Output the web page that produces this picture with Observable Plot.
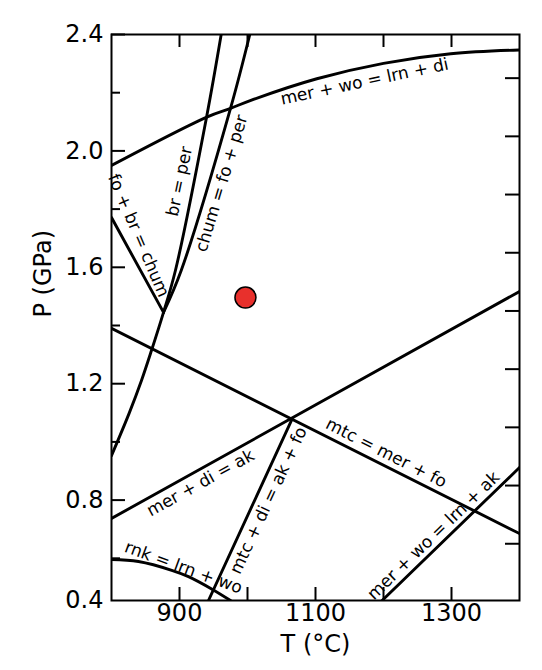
<!DOCTYPE html>
<html>
<head>
<meta charset="utf-8">
<script src="https://cdn.jsdelivr.net/npm/d3@7"></script>
<script src="https://cdn.jsdelivr.net/npm/@observablehq/plot@0.6"></script>
<style>
  html, body { margin: 0; padding: 0; background: #fff; }
  #chart svg { display: block; }
</style>
</head>
<body>
<div id="chart"></div>
<script>
// ---- Data (T in °C, P in GPa) ----
const merWoLrnDiT = [800, 941, 975, 1004, 1102, 1200, 1299, 1400];
const merWoLrnDiP = [1.950, 2.117, 2.146, 2.173, 2.248, 2.301, 2.334, 2.347];

const brPerT = [800, 825.9, 844.1, 858.8, 876.5, 894, 939.7, 961.3];
const brPerP = [0.953, 1.098, 1.211, 1.314, 1.445, 1.589, 2.115, 2.4];

const chumT = [876.5, 902.5, 975, 1003.4];
const chumP = [1.445, 1.589, 2.146, 2.4];

const foBrChumT = [800, 876.5];
const foBrChumP = [1.771, 1.445];

const mtcMerFoT = [800, 1400];
const mtcMerFoP = [1.390, 0.685];

const merDiAkT = [800, 1400];
const merDiAkP = [0.737, 1.517];

const mtcDiAkFoT = [942.6, 1065.7];
const mtcDiAkFoP = [0.455, 1.079];

const merWoLrnAkT = [1198, 1400];
const merWoLrnAkP = [0.455, 0.912];

const rnkT = [800, 839.7, 889.7, 913.2, 948.5, 975];
const rnkP = [0.596, 0.589, 0.558, 0.537, 0.493, 0.455];

const sampleT = [997];
const sampleP = [1.496];

const labelText = ["mer + wo = lrn + di", "br = per", "chum = fo + per", "fo + br = chum",
  "mer + di = ak", "rnk = lrn + wo", "mtc + di = ak + fo", "mtc = mer + fo", "mer + wo = lrn + ak"];
const labelT = [1172, 900, 961.8, 839.7, 930.9, 905.9, 1030.9, 1204, 1273.5];
const labelP = [2.238, 1.895, 1.888, 1.709, 0.859, 0.568, 0.799, 0.962, 0.678];
const labelAngle = [-12, -78, -73, 67, -29, 20, -65, 27, -44];

const xTicks = [900, 1000, 1100, 1200, 1300];
const xTickLabels = [900, 1100, 1300];
const yMajorTicks = [0.8, 1.2, 1.6, 2.0, 2.4];
const yMinorTicks = [0.6, 1.0, 1.4, 1.8, 2.2];
const yLabelValues = [0.455, 0.8, 1.2, 1.6, 2.0, 2.4];
const yLabelText = ["0.4", "0.8", "1.2", "1.6", "2.0", "2.4"];
const yRightTicks = [0.65, 0.85, 1.05, 1.25, 1.45, 1.65, 1.85, 2.05, 2.25];

// ---- Build tables ----
const toRows = (T, P) => T.map((t, i) => ({T: t, P: P[i]}));
const curved = [toRows(merWoLrnDiT, merWoLrnDiP), toRows(brPerT, brPerP), toRows(chumT, chumP), toRows(rnkT, rnkP)];
const straight = [toRows(foBrChumT, foBrChumP), toRows(mtcMerFoT, mtcMerFoP), toRows(merDiAkT, merDiAkP),
  toRows(mtcDiAkFoT, mtcDiAkFoP), toRows(merWoLrnAkT, merWoLrnAkP)];
const labels = labelText.map((t, i) => ({text: t, T: labelT[i], P: labelP[i], angle: labelAngle[i]}));

const W = 542, H = 670;
const mT = 34, mB = 70, mL = 111, mR = 23;
const fw = W - mL - mR, fh = H - mT - mB;
const font = "DejaVu Sans";

const marks = [];
for (const rows of curved) {
  marks.push(Plot.line(rows, {x: "T", y: "P", curve: "catmull-rom", stroke: "black", strokeWidth: 2.9, clip: true}));
}
for (const rows of straight) {
  marks.push(Plot.line(rows, {x: "T", y: "P", stroke: "black", strokeWidth: 2.9, clip: true}));
}
marks.push(
  Plot.dot(sampleT.map((t, i) => ({T: t, P: sampleP[i]})), {x: "T", y: "P", r: 10.5, fill: "#e8302c", stroke: "black", strokeWidth: 1.5}),
  Plot.text(labels, {x: "T", y: "P", text: "text", rotate: "angle", fontSize: 17, fontFamily: font, fill: "black"}),
  // ticks (inward)
  Plot.tickX(xTicks, {x: d => d, insetTop: fh - 13, stroke: "black", strokeWidth: 2}),
  Plot.tickX(xTicks, {x: d => d, insetBottom: fh - 13, stroke: "black", strokeWidth: 2}),
  Plot.tickY(yMajorTicks, {y: d => d, insetRight: fw - 14, stroke: "black", strokeWidth: 2}),
  Plot.tickY(yMinorTicks, {y: d => d, insetRight: fw - 9, stroke: "black", strokeWidth: 2}),
  Plot.tickY(yRightTicks, {y: d => d, insetLeft: fw - 14, stroke: "black", strokeWidth: 2}),
  Plot.frame({stroke: "black", strokeWidth: 2}),
  // tick labels
  Plot.text(xTickLabels, {x: d => d, frameAnchor: "bottom", dy: 20, text: d => String(d), fontSize: 24, fontFamily: font, fill: "black"}),
  Plot.text(yLabelValues, {y: d => d, frameAnchor: "left", dx: -8, textAnchor: "end",
    text: (d, i) => yLabelText[i], fontSize: 24, fontFamily: font, fill: "black"}),
  // axis labels
  Plot.text(["T (°C)"], {frameAnchor: "bottom", dy: 51, text: d => d, fontSize: 24, fontFamily: font, fill: "black"}),
  Plot.text(["P (GPa)"], {frameAnchor: "left", dx: -68, rotate: -90, text: d => d, fontSize: 24, fontFamily: font, fill: "black"})
);

const chart = Plot.plot({
  width: W,
  height: H,
  marginTop: mT,
  marginBottom: mB,
  marginLeft: mL,
  marginRight: mR,
  style: {fontFamily: font, background: "white", overflow: "visible"},
  x: {domain: [800, 1400], axis: null},
  y: {domain: [0.455, 2.4], axis: null},
  marks
});
document.getElementById("chart").append(chart);
</script>
</body>
</html>
